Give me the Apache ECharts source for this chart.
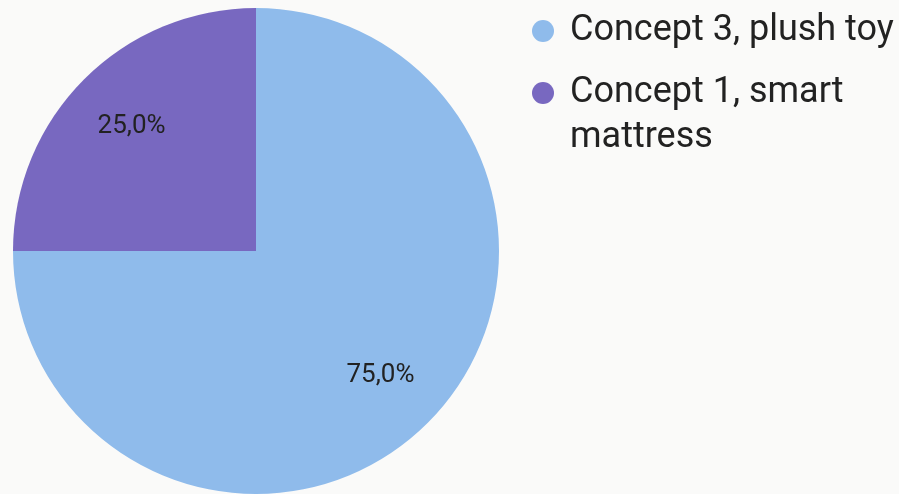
<!DOCTYPE html>
<html>
<head>
<meta charset="utf-8">
<script src="https://cdn.jsdelivr.net/npm/echarts@6/dist/echarts.min.js"></script>
<style>
  html, body { margin: 0; padding: 0; background: #fafaf9; }
  #chart { width: 899px; height: 494px; }
</style>
</head>
<body>
<div id="chart"></div>
<script>
// Share of votes per concept
const categories = ['Concept 3, plush toy', 'Concept 1, smart mattress'];
const values = [75, 25];
const colors = ['#8fbbeb', '#7868c0'];

const total = values.reduce((a, b) => a + b, 0);
const pieData = categories.map((name, i) => ({ name, value: values[i] }));
const fmtPercent = v => (v / total * 100).toFixed(1).replace('.', ',') + '%';

const LEGEND_FONT = 36;
const LEGEND_WIDTH = 330;

// Word-wrap a legend label; leading blank lines keep the first line level with the icon
const measureCtx = document.createElement('canvas').getContext('2d');
measureCtx.font = LEGEND_FONT + 'px Roboto';
function wrapLegend(name) {
  const words = name.split(' ');
  const lines = [];
  let cur = '';
  words.forEach(w => {
    const next = cur ? cur + ' ' + w : w;
    if (cur && measureCtx.measureText(next).width > LEGEND_WIDTH) {
      lines.push(cur);
      cur = w;
    } else {
      cur = next;
    }
  });
  lines.push(cur);
  return '\n'.repeat(lines.length - 1) + lines.join('\n');
}

const chart = echarts.init(document.getElementById('chart'), null, { renderer: 'canvas' });

chart.setOption({
  backgroundColor: '#fafaf9',
  animation: false,
  color: colors,
  legend: {
    orient: 'vertical',
    left: 532,
    top: 8.5,
    padding: 0,
    itemGap: -28,
    icon: 'circle',
    itemWidth: 22,
    itemHeight: 22,
    formatter: wrapLegend,
    textStyle: {
      fontFamily: 'Roboto',
      fontSize: LEGEND_FONT,
      color: '#222222',
      lineHeight: 45,
      padding: [0, 0, 0, 11]
    },
    data: categories
  },
  series: [
    {
      type: 'pie',
      center: [256, 251],
      radius: [0, 243],
      startAngle: 90,
      clockwise: true,
      label: { show: false },
      labelLine: { show: false },
      emphasis: { disabled: true },
      data: pieData
    },
    {
      // transparent ring that carries the percentage labels
      type: 'pie',
      center: [256, 251],
      radius: [103, 243],
      startAngle: 90,
      clockwise: true,
      silent: true,
      itemStyle: { color: 'rgba(0,0,0,0)' },
      label: {
        show: true,
        position: 'inside',
        fontFamily: 'Roboto',
        fontSize: 26,
        color: '#222222',
        formatter: p => fmtPercent(p.value)
      },
      labelLine: { show: false },
      emphasis: { disabled: true },
      data: pieData
    }
  ]
});
</script>
</body>
</html>
